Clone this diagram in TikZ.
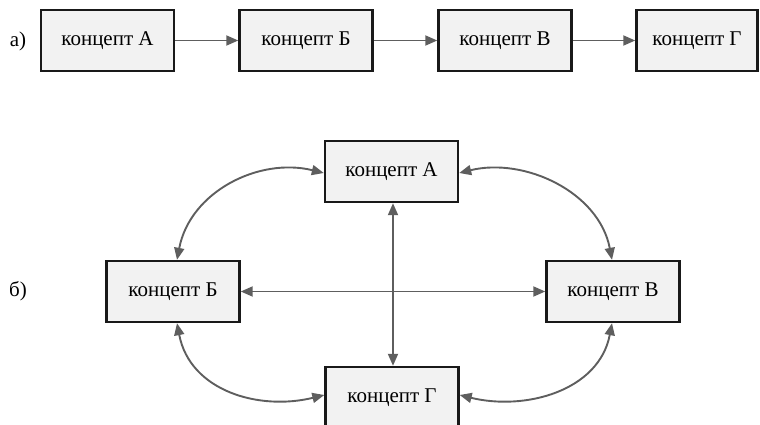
\documentclass[tikz,border=0pt]{standalone}
\usepackage{fontspec}
\setmainfont{Liberation Serif}
\usetikzlibrary{arrows.meta}
\definecolor{boxfill}{HTML}{F2F2F2}
\definecolor{linkgray}{HTML}{5E5E5E}
\begin{document}
\begin{tikzpicture}[x=1pt,y=-1pt,
  concept/.style={draw=black!90, line width=2.4pt, fill=boxfill,
    minimum width=133pt, minimum height=61pt, inner sep=0pt,
    font=\fontsize{21}{24}\selectfont},
  tag/.style={font=\fontsize{21}{24}\selectfont, inner sep=0pt},
  link/.style={draw=linkgray, line width=1.9pt,
    -{Triangle[length=12pt,width=10pt]}},
  bilink/.style={draw=linkgray, line width=1.9pt,
    {Triangle[length=12pt,width=10pt]}-{Triangle[length=12pt,width=10pt]}}]
\useasboundingbox (0,0) rectangle (760,425);

% row a: chain of four concepts
\node[tag] (la) at (18,41) {а)};
\node[concept] (a1) at (107.5,40.5) {концепт А};
\node[concept] (a2) at (306,40.5) {концепт Б};
\node[concept] (a3) at (505,40.5) {концепт В};
\node[concept, minimum width=121pt] (a4) at (697,40.5) {концепт Г};
\draw[link] (a1) -- (a2);
\draw[link] (a2) -- (a3);
\draw[link] (a3) -- (a4);

% row b: four concepts linked in both directions
\node[tag] (lb) at (18,291) {б)};
\node[concept] (bA) at (391.5,171.5) {концепт А};
\node[concept] (bB) at (173,291.5) {концепт Б};
\node[concept] (bV) at (613,291.5) {концепт В};
\node[concept] (bG) at (392,397.5) {концепт Г};

\draw[bilink] (bB) -- (bV);
\draw[bilink] ([xshift=1.5pt]bA.south) -- ([xshift=1pt]bG.north);

\draw[bilink] ([xshift=4pt]bB.north) .. controls +(13,-68) and +(-65,-16) .. ([yshift=-1.5pt]bA.west);
\draw[bilink] ([yshift=-1.5pt]bA.east) .. controls +(65,-16) and +(-13,-68) .. ([xshift=-1pt]bV.north);
\draw[bilink] ([xshift=4pt]bB.south) .. controls +(13,68) and +(-65,16) .. ([yshift=2.5pt]bG.west);
\draw[bilink] ([yshift=2.5pt]bG.east) .. controls +(65,16) and +(-13,68) .. ([xshift=-1pt]bV.south);
\end{tikzpicture}
\end{document}
